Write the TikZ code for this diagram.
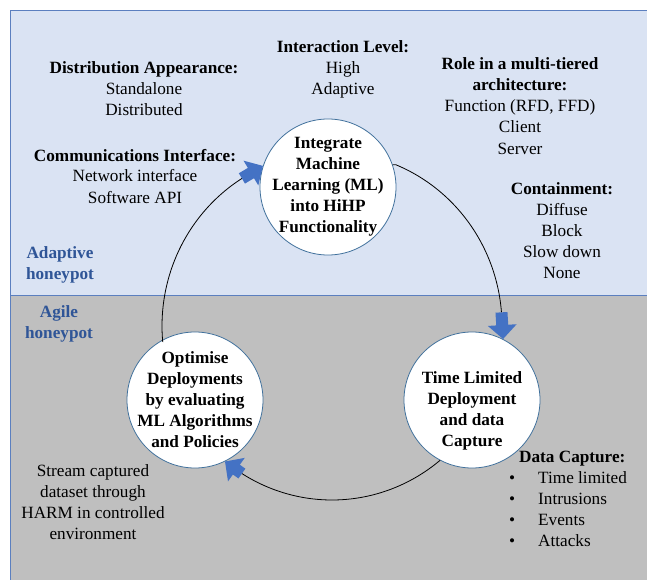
\documentclass[tikz,border=0pt]{standalone}
\usepackage{fontspec}
\setmainfont{Liberation Serif}
\usetikzlibrary{arrows.meta}
\definecolor{topfill}{HTML}{DAE3F3}
\definecolor{botfill}{HTML}{BFBFBF}
\definecolor{paneledge}{HTML}{5B7FBF}
\definecolor{circedge}{HTML}{41719C}
\definecolor{arrowblue}{HTML}{4472C4}
\definecolor{labelblue}{HTML}{2F5597}
\newcommand{\mainsize}{\fontsize{17.2}{21}\selectfont}
\tikzset{
  panel/.style={draw=paneledge, line width=0.9pt},
  stage/.style={circle, draw=circedge, line width=0.8pt, fill=white, minimum size=136pt, inner sep=-20pt, align=center, font=\mainsize\bfseries},
  txt/.style={align=center, inner sep=0pt, anchor=base, font=\mainsize},
  conn/.style={draw=black, line width=0.8pt},
  blockarrow/.style={draw=arrowblue, line width=12pt, -{Triangle[width=28pt,length=14pt]}},
  tierlabel/.style={txt, text=labelblue, font=\mainsize\bfseries},
}
\begin{document}
\begin{tikzpicture}[x=1pt, y=-1pt]
\useasboundingbox (0,0) rectangle (647,580);
% panels
\fill[topfill] (10.5,10) rectangle (652,295);
\fill[botfill] (10.5,295) rectangle (652,585);
\draw[panel] (10.5,10) rectangle (652,295);
\draw[panel] (10.5,295) rectangle (652,585);

% stage circles
\node[stage] (top) at (328,187) {Integrate\\Machine\\Learning (ML)\\into HiHP\\Functionality};
\node[stage] (left) at (195,400) {Optimise\\Deployments\\by evaluating\\ML Algorithms\\and Policies};
\node[stage] (right) at (472,400) {\smash{\raisebox{-15pt}{\begin{tabular}{@{}c@{}}Time Limited\\Deployment\\and data\\Capture\end{tabular}}}};

% cycle connectors (ellipse centre (332,326), radii 170 and 174)
\coordinate (tailA) at ({332+170*cos(-4.5)},{326+174*sin(-4.5)});
\coordinate (tailB) at ({332+170*cos(122)},{326+174*sin(122)});
\coordinate (tailC) at ({332+170*cos(-122)},{326+174*sin(-122)});
\draw[conn] (top.19) -- plot[domain=-68:-4.5, samples=40, smooth] ({332+170*cos(\x)},{326+174*sin(\x)});
\draw[conn] (right.-118) -- plot[domain=50.5:122, samples=40, smooth] ({332+170*cos(\x)},{326+174*sin(\x)});
\draw[conn] (left.119) -- plot[domain=175:238, samples=40, smooth] ({332+170*cos(\x)},{326+174*sin(\x)});
\draw[blockarrow] (tailA) -- (right.63);
\draw[blockarrow] (tailB) -- (left.-64);
\draw[blockarrow] (tailC) -- (top.162);

% attribute texts (anchor = baseline of last line)
\node[txt] (interaction) at (343,95) {\textbf{Interaction Level:}\\High\\Adaptive};
\node[txt] (distribution) at (144,116) {\textbf{Distribution Appearance:}\\Standalone\\Distributed};
\node[txt] (role) at (520,154) {\textbf{Role in a multi-tiered}\\\textbf{architecture:}\\Function (RFD, FFD)\\Client\\Server};
\node[txt] (comm) at (135,203) {\textbf{Communications Interface:}\\Network interface\\Software API};
\node[txt] (contain) at (562,278) {\textbf{Containment:}\\Diffuse\\Block\\Slow down\\None};
\node[tierlabel] (adaptive) at (60,279) {Adaptive\\honeypot};
\node[tierlabel] (agile) at (59,338) {Agile\\honeypot};
\node[txt] (stream) at (93,539) {Stream captured\\dataset through\\HARM in controlled\\environment};
\node[txt, anchor=base west] (capture) at (519,462) {\textbf{Data Capture:}};
\node[txt, anchor=base west, align=left] (capturelist) at (509,546) {\makebox[29pt][l]{\textbullet}Time limited\\\makebox[29pt][l]{\textbullet}Intrusions\\\makebox[29pt][l]{\textbullet}Events\\\makebox[29pt][l]{\textbullet}Attacks};
\end{tikzpicture}
\end{document}
